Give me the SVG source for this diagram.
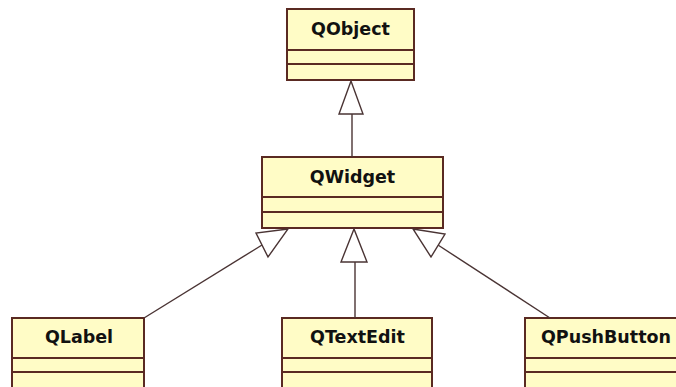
<svg xmlns="http://www.w3.org/2000/svg" width="676" height="387" viewBox="0 0 676 387">
<style>
.box{fill:#fffcc6;stroke:#5a2a22;stroke-width:2}
.div{stroke:#5a2a22;stroke-width:2;fill:none}
.lbl{font-family:"DejaVu Sans",sans-serif;font-weight:bold;font-size:17.5px;fill:#111;text-anchor:middle}
.con{stroke:#4a3434;stroke-width:1.4;fill:none}
.tri{stroke:#4a3434;stroke-width:1.4;fill:#fff}
</style>
<rect width="676" height="387" fill="#fff"/>
<g id="QObject">
<rect class="box" x="287" y="9" width="127" height="71"/>
<line class="div" x1="287" y1="50" x2="414" y2="50"/>
<line class="div" x1="287" y1="64" x2="414" y2="64"/>
<text class="lbl" x="350.5" y="35">QObject</text>
</g>
<g id="QWidget">
<rect class="box" x="262" y="157" width="181" height="71"/>
<line class="div" x1="262" y1="197" x2="443" y2="197"/>
<line class="div" x1="262" y1="212" x2="443" y2="212"/>
<text class="lbl" x="352.5" y="183">QWidget</text>
</g>
<g id="QLabel">
<rect class="box" x="12" y="318" width="132" height="80"/>
<line class="div" x1="12" y1="358" x2="144" y2="358"/>
<line class="div" x1="12" y1="372" x2="144" y2="372"/>
<text class="lbl" x="79" y="343">QLabel</text>
</g>
<g id="QTextEdit">
<rect class="box" x="282" y="318" width="150" height="80"/>
<line class="div" x1="282" y1="358" x2="432" y2="358"/>
<line class="div" x1="282" y1="372" x2="432" y2="372"/>
<text class="lbl" x="357.5" y="343">QTextEdit</text>
</g>
<g id="QPushButton">
<rect class="box" x="525" y="318" width="170" height="80"/>
<line class="div" x1="525" y1="358" x2="695" y2="358"/>
<line class="div" x1="525" y1="372" x2="695" y2="372"/>
<text class="lbl" x="606" y="343">QPushButton</text>
</g>
<g id="connectors">
<line class="con" x1="352" y1="114" x2="352" y2="157"/>
<polygon class="tri" points="351,81 339,114 363,114"/>
<line class="con" x1="355" y1="262" x2="355" y2="318"/>
<polygon class="tri" points="354,229 341,262 367,262"/>
<line class="con" x1="262" y1="245" x2="144" y2="318"/>
<polygon class="tri" points="288,229 256,233 268,257"/>
<line class="con" x1="438" y1="245" x2="550" y2="318"/>
<polygon class="tri" points="413,229 445,234 431,257"/>
</g>
</svg>
